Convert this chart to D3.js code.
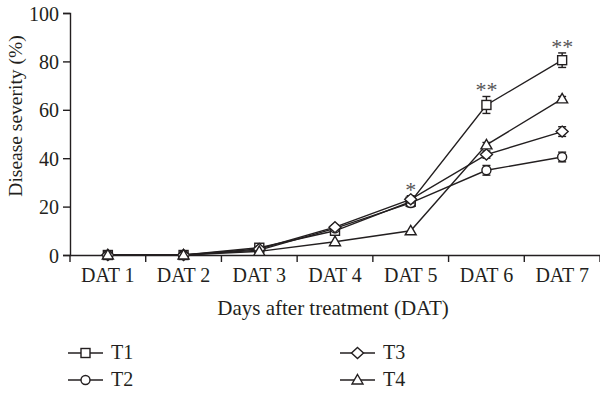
<!DOCTYPE html>
<html>
<head>
<meta charset="utf-8">
<script src="https://cdn.jsdelivr.net/npm/d3@7"></script>
<style>
body { margin: 0; background: #fff; }
text { font-family: "Liberation Serif", "DejaVu Serif", serif; fill: #231f20; }
</style>
</head>
<body>
<div id="chart"></div>
<script>
// data
var days = ["DAT 1", "DAT 2", "DAT 3", "DAT 4", "DAT 5", "DAT 6", "DAT 7"];
var t1 = [0, 0, 3, 10, 22, 62, 80.5];
var t2 = [0, 0, 2, 11, 21.5, 35, 40.5];
var t3 = [0, 0, 2.5, 11.5, 23, 41.5, 51];
var t4 = [0, 0, 1.5, 5.5, 10, 45.5, 64.5];
var t1Err = [0, 0, 1, 1, 2, 3.5, 3];
var t2Err = [0, 0, 0.5, 1, 1.5, 2, 2];
var t3Err = [0, 0, 0.5, 1, 1.5, 1.5, 2];
var t4Err = [0, 0, 0.5, 0.5, 0.5, 1, 1];
var yTicks = [0, 20, 40, 60, 80, 100];
var stars = ["", "", "", "", "*", "**", "**"];

var series = [
    {name: "T1", vals: t1, err: t1Err, shape: "square"},
    {name: "T2", vals: t2, err: t2Err, shape: "circle"},
    {name: "T3", vals: t3, err: t3Err, shape: "diamond"},
    {name: "T4", vals: t4, err: t4Err, shape: "triangle"}
];

var W = 600, H = 393;
var svg = d3.select("#chart").append("svg").attr("width", W).attr("height", H);

var x = d3.scaleBand().domain(days).range([70, 600]);
var y = d3.scaleLinear().domain([0, 100]).range([255, 13]);

var ink = "#231f20";

// axes
var yAxis = svg.append("g").attr("transform", "translate(70,0)")
    .call(d3.axisLeft(y).tickValues(yTicks).tickSize(7).tickPadding(4));
var xAxis = svg.append("g").attr("transform", "translate(0,255)")
    .call(d3.axisBottom(x).tickSize(0).tickPadding(13));

// x tick marks sit on the band edges
xAxis.selectAll(".edge").data(days.slice(1).concat(["end"]))
    .enter().append("line")
    .attr("x1", function(d, i){ return x(days[0]) + x.step() * (i + 1); })
    .attr("x2", function(d, i){ return x(days[0]) + x.step() * (i + 1); })
    .attr("y1", 0).attr("y2", 7);
xAxis.append("line").attr("x1", 70).attr("x2", 70).attr("y1", 0).attr("y2", 7);

[xAxis, yAxis].forEach(function(g){
    g.selectAll("path, line").attr("stroke", ink).attr("stroke-width", 1.4);
    g.selectAll("text").style("font-size", "20px").attr("fill", ink)
        .style("font-family", "'Liberation Serif', serif");
});
yAxis.selectAll("text").attr("dy", "0.35em");

svg.append("text").attr("x", 333).attr("y", 315).attr("text-anchor", "middle")
    .style("font-size", "21px").text("Days after treatment (DAT)");
svg.append("text").attr("transform", "translate(22,116) rotate(-90)")
    .attr("text-anchor", "middle").style("font-size", "19.5px").text("Disease severity (%)");

var cx = function(i){ return x(days[i]) + x.bandwidth() / 2; };

function marker(g, shape, px, py) {
    var s = 4.5;
    if (shape == "square") {
        g.append("rect").attr("x", px - s).attr("y", py - s).attr("width", 2 * s).attr("height", 2 * s);
    } else if (shape == "circle") {
        g.append("circle").attr("cx", px).attr("cy", py).attr("r", s);
    } else if (shape == "diamond") {
        g.append("path").attr("d", "M" + px + "," + (py - s - 1) + "L" + (px + s + 1.5) + "," + py +
            "L" + px + "," + (py + s + 1) + "L" + (px - s - 1.5) + "," + py + "Z");
    } else {
        g.append("path").attr("d", "M" + px + "," + (py - s - 1) + "L" + (px + s + 1) + "," + (py + s - 0.5) +
            "L" + (px - s - 1) + "," + (py + s - 0.5) + "Z");
    }
}

var line = d3.line().x(function(d, i){ return cx(i); }).y(function(d){ return y(d); });

series.forEach(function(s){
    svg.append("path").datum(s.vals).attr("d", line)
        .attr("fill", "none").attr("stroke", ink).attr("stroke-width", 1.4);
});

series.forEach(function(s){
    var g = svg.append("g").attr("fill", "#fff").attr("stroke", ink).attr("stroke-width", 1.4);
    s.vals.forEach(function(v, i){
        var e = s.err[i];
        if (e > 0.6) {
            g.append("line").attr("x1", cx(i)).attr("x2", cx(i)).attr("y1", y(v + e)).attr("y2", y(v - e));
            g.append("line").attr("x1", cx(i) - 4).attr("x2", cx(i) + 4).attr("y1", y(v + e)).attr("y2", y(v + e));
            g.append("line").attr("x1", cx(i) - 4).attr("x2", cx(i) + 4).attr("y1", y(v - e)).attr("y2", y(v - e));
        }
        marker(g, s.shape, cx(i), y(v));
    });
});

// significance stars above the top value
stars.forEach(function(st, i){
    if (!st) return;
    var top = d3.max(series, function(s){ return s.vals[i] + s.err[i]; });
    svg.append("text").attr("x", cx(i)).attr("y", y(top) + 1)
        .attr("text-anchor", "middle").style("font-size", "22px")
        .style("fill", "#555").text(st);
});

// legend
var legPos = [[68, 353], [68, 380], [340, 353], [340, 380]];
series.forEach(function(s, i){
    var lx = legPos[i][0], ly = legPos[i][1];
    var g = svg.append("g").attr("fill", "#fff").attr("stroke", ink).attr("stroke-width", 1.4);
    g.append("line").attr("x1", lx).attr("x2", lx + 35).attr("y1", ly).attr("y2", ly);
    marker(g, s.shape, lx + 17.5, ly);
    svg.append("text").attr("x", lx + 43).attr("y", ly + 6).style("font-size", "20px").text(s.name);
});
</script>
</body>
</html>
